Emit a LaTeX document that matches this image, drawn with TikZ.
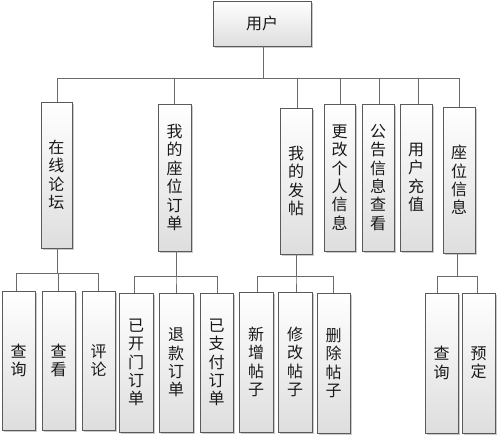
\documentclass[tikz,border=0pt]{standalone}
\usepackage{fontspec}
\newfontfamily\cjk{Noto Sans CJK SC}
\usetikzlibrary{shadows}
\definecolor{linec}{HTML}{6A6A6A}
\definecolor{boxc}{HTML}{5A5A5A}
\tikzset{
  box/.style={draw=boxc, line width=0.9pt, top color=white, bottom color=black!13,
    drop shadow={shadow xshift=1.6pt, shadow yshift=-1.6pt, opacity=0.35, fill=black!60},
    inner sep=0pt, align=center, text=black!90,
    font=\cjk\fontsize{16}{18.4}\selectfont},
  conn/.style={draw=linec, line width=0.9pt}
}
\newcommand{\bx}[7]{% name, left, top, right, bottom, text
  \node[box, minimum width=#4-#2 pt, minimum height=#5-#3 pt] (#1) at ({(#2+#4)/2},{(#3+#5)/2}) {#6};}
\begin{document}
\begin{tikzpicture}[x=1pt,y=-1pt]
\useasboundingbox (0,0) rectangle (499,438);
% root
\bx{root}{213}{1}{311}{46}{用户}{}
% level 1
\bx{forum}{41}{102}{72}{248}{在\\线\\论\\坛}{}
\bx{order}{158}{104}{191}{251}{我\\的\\座\\位\\订\\单}{}
\bx{post}{280}{108}{312}{254}{我\\的\\发\\帖}{}
\bx{info}{324}{104}{355}{251}{更\\改\\个\\人\\信\\息}{}
\bx{notice}{362}{104}{394}{251}{公\\告\\信\\息\\查\\看}{}
\bx{charge}{400}{104}{432}{251}{用\\户\\充\\值}{}
\bx{seat}{443}{107}{475}{253}{座\\位\\信\\息}{}
% level 2
\bx{fq}{2}{291}{35}{430}{查\\询}{}
\bx{fv}{42}{291}{75}{430}{查\\看}{}
\bx{fc}{82}{291}{115}{430}{评\\论}{}
\bx{oa}{119}{293}{153}{432}{已\\开\\门\\订\\单}{}
\bx{ob}{159}{293}{193}{432}{退\\款\\订\\单}{}
\bx{oc}{200}{293}{233}{432}{已\\支\\付\\订\\单}{}
\bx{pa}{239}{292}{273}{432}{新\\增\\帖\\子}{}
\bx{pb}{278}{292}{312}{432}{修\\改\\帖\\子}{}
\bx{pc}{317}{293}{350}{433}{删\\除\\帖\\子}{}
\bx{sq}{425}{293}{458}{433}{查\\询}{}
\bx{sr}{462}{293}{495}{433}{预\\定}{}
% connectors level 1
\coordinate (rb) at (263,46);
\coordinate (bus) at (263,78);
\foreach \n/\x in {forum/57,order/174,post/297,info/340,notice/379,charge/418,seat/459}{
  \draw[conn] (rb) -- (bus) -- (\x,78) -- (\x,0 |- \n.north);
}
% connectors level 2
\foreach \p/\px/\by/\list in {forum/57/273/{fq/16,fv/58,fc/98}, order/176/276/{oa/134,ob/176,oc/217}, post/296/276/{pa/257,pb/296,pc/333}, seat/457/276/{sq/437,sr/477}}{
  \foreach \c/\cx in \list {
    \draw[conn] (\px,0 |- \p.south) -- (\px,\by) -- (\cx,\by) -- (\cx,0 |- \c.north);
  }
}
\end{tikzpicture}
\end{document}
